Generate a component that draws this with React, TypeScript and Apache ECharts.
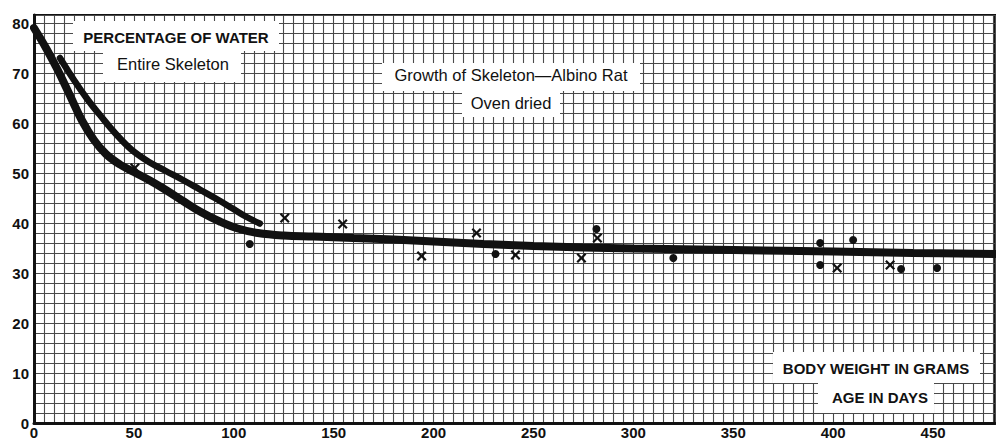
import React, { useEffect, useRef } from "react";
import * as echarts from "echarts";

// Tick labels
const xTickLabels = [0, 50, 100, 150, 200, 250, 300, 350, 400, 450];
const yTickLabels = [0, 10, 20, 30, 40, 50, 60, 70, 80];

// Long curve (x = body weight / age, y = percentage of water)
const curveLong: [number, number][] = [
  [0, 79], [6, 75], [12, 70.5], [18, 65.5], [24, 60.5], [30, 56.6], [36, 53.8],
  [43, 51.7], [50, 50.2], [58, 48.5], [66, 46.6], [75, 44.3], [84, 42.1],
  [93, 40.3], [102, 38.9], [112, 38], [125, 37.5], [140, 37.3], [160, 37],
  [180, 36.7], [200, 36.3], [225, 35.8], [250, 35.4], [275, 35.1], [300, 34.9],
  [350, 34.6], [400, 34.3], [440, 34], [481, 33.8],
];

// Short curve
const curveShort: [number, number][] = [
  [13, 73], [20, 68.6], [27, 64.6], [33, 61.6], [41, 57.8], [49, 54.6],
  [58, 52.1], [66, 50.4], [75, 48.5], [83, 46.7], [91, 44.9], [99, 43],
  [106, 41.3], [113, 39.9],
];

// Observations shown as dots
const dotPoints: [number, number][] = [
  [108, 35.8], [231, 33.8], [281.5, 38.8], [320, 33], [393.5, 36],
  [393.5, 31.6], [410, 36.6], [434, 30.8], [452, 31],
];

// Observations shown as crosses
const crossPoints: [number, number][] = [
  [50.5, 51], [125.5, 41], [154.5, 39.8], [194, 33.4], [221.5, 38],
  [241, 33.6], [274, 33], [282, 37], [402, 31], [428.5, 31.6],
];

const CROSS =
  "path://M0,1.6 L1.6,0 L5,3.4 L8.4,0 L10,1.6 L6.6,5 L10,8.4 L8.4,10 L5,6.6 L1.6,10 L0,8.4 L3.4,5 Z";

const INK = "#111";
const GRIDLINE = "#4a4a4a";
const FONT = "Liberation Sans";

export default function App() {
  const ref = useRef<HTMLDivElement>(null);

  useEffect(() => {
    if (!ref.current) return;
    const chart = echarts.init(ref.current, null, { renderer: "svg" });

    const box = (x: number, y: number, w: number, h: number) => ({
      type: "rect",
      z: 50,
      shape: { x, y, width: w, height: h },
      style: { fill: "#fff" },
    });
    const label = (x: number, y: number, text: string, font: string) => ({
      type: "text",
      z: 51,
      x,
      y,
      style: {
        text,
        fill: INK,
        font,
        textAlign: "center",
        textVerticalAlign: "middle",
        align: "center",
        verticalAlign: "middle",
      },
    });

    chart.setOption({
      animation: false,
      backgroundColor: "#fff",
      grid: {
        left: 34,
        right: 0,
        top: 15,
        bottom: 17,
        show: true,
        borderColor: INK,
        borderWidth: 2,
        backgroundColor: "#fff",
      },
      xAxis: {
        type: "value",
        min: 0,
        max: 481,
        interval: 5,
        axisLine: { show: true, onZero: false, lineStyle: { color: INK, width: 3 } },
        axisTick: { show: false },
        splitLine: { show: true, lineStyle: { color: GRIDLINE, width: 1.1 } },
        axisLabel: {
          showMaxLabel: false,
          formatter: (v: number) => (xTickLabels.includes(v) ? String(v) : ""),
          color: INK,
          fontSize: 15,
          fontWeight: "bold",
          fontFamily: FONT,
          margin: 2,
        },
      },
      yAxis: {
        type: "value",
        min: 0,
        max: 81.6,
        interval: 2,
        axisLine: { show: true, onZero: false, lineStyle: { color: INK, width: 3 } },
        axisTick: { show: false },
        splitLine: { show: true, lineStyle: { color: GRIDLINE, width: 1.1 } },
        axisLabel: {
          showMaxLabel: false,
          formatter: (v: number) => (yTickLabels.includes(v) ? String(v) : ""),
          color: INK,
          fontSize: 15,
          fontWeight: "bold",
          fontFamily: FONT,
          margin: 5,
        },
      },
      series: [
        {
          name: "Long curve",
          type: "line",
          data: curveLong,
          smooth: 0.4,
          showSymbol: false,
          symbol: "none",
          lineStyle: { color: INK, width: 8, cap: "round" },
          z: 5,
        },
        {
          name: "Short curve",
          type: "line",
          data: curveShort,
          smooth: 0.4,
          showSymbol: false,
          symbol: "none",
          lineStyle: { color: INK, width: 6.5, cap: "round" },
          z: 5,
        },
        {
          name: "Dots",
          type: "scatter",
          data: dotPoints,
          symbol: "circle",
          symbolSize: 8,
          itemStyle: { color: INK, opacity: 1 },
          z: 6,
        },
        {
          name: "Crosses",
          type: "scatter",
          data: crossPoints,
          symbol: CROSS,
          symbolSize: 10,
          itemStyle: { color: INK, opacity: 1 },
          z: 6,
        },
      ],
      graphic: [
        box(73, 21, 206, 30),
        box(103, 50, 138, 32),
        label(176, 37, "PERCENTAGE OF WATER", `bold 15px "${FONT}"`),
        label(173, 64, "Entire Skeleton", `16.5px "${FONT}"`),

        box(382, 63, 258, 28),
        box(462, 90, 98, 27),
        label(511, 75, "Growth of Skeleton\u2014Albino Rat", `16.5px "${FONT}"`),
        label(511, 103, "Oven dried", `16.5px "${FONT}"`),

        box(773, 352, 207, 31),
        box(818, 382, 116, 31),
        label(876, 368, "BODY WEIGHT IN GRAMS", `bold 15px "${FONT}"`),
        label(880, 397, "AGE IN DAYS", `bold 15px "${FONT}"`),
      ],
    });

    return () => chart.dispose();
  }, []);

  return (
    <div
      ref={ref}
      style={{
        position: "fixed",
        left: 0,
        top: 0,
        width: 996,
        height: 440,
        background: "#fff",
      }}
    />
  );
}
